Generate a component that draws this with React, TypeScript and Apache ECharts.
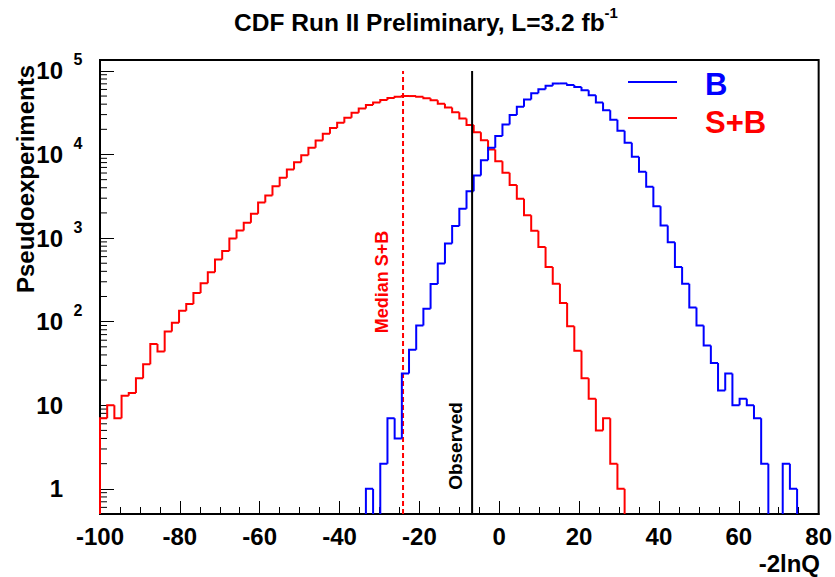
import React, { useEffect, useRef } from 'react';
import * as echarts from 'echarts';

// ---- axis ranges ----
const X_MIN = -100;
const X_MAX = 80;
const N_BINS = 100;
const X_TICK_INTERVAL = 20;
const Y_MIN = 0.5;
const Y_MAX = 1.35e5;
const Y_TICK_EXPONENTS = [0, 1, 2, 3, 4, 5];

// ---- histogram contents (pseudoexperiments per bin, 100 bins from -100 to 80) ----
const SB_COUNTS = [
  7, 10, 7, 13, 14, 21, 31, 54, 44, 76,
  97, 135, 163, 220, 288, 390, 553, 702, 986, 1230,
  1520, 1960, 2660, 3230, 4180, 5260, 6610, 8090, 9820, 12000,
  14700, 17700, 20700, 24000, 27500, 31500, 35500, 39000, 42000, 45000,
  47500, 49000, 50000, 50000, 49000, 47000, 44500, 40500, 36500, 32000,
  27000, 22500, 18500, 14800, 11500, 8300, 6040, 4300, 2950, 1880,
  1220, 784, 450, 285, 167, 88, 45, 21, 12, 5,
  7, 2, 1, 0, 0, 0, 0, 0, 0, 0,
  0, 0, 0, 0, 0, 0, 0, 0, 0, 0,
  0, 0, 0, 0, 0, 0, 0, 0, 0, 0,
];
const B_COUNTS = [
  0, 0, 0, 0, 0, 0, 0, 0, 0, 0,
  0, 0, 0, 0, 0, 0, 0, 0, 0, 0,
  0, 0, 0, 0, 0, 0, 0, 0, 0, 0,
  0, 0, 0, 0, 0, 0, 0, 1, 0, 2,
  7, 4, 24, 46, 90, 143, 283, 495, 859, 1390,
  2240, 3640, 5600, 8550, 12000, 16600, 22900, 29600, 37200, 45600,
  54000, 60500, 66500, 70800, 70800, 68000, 64300, 58600, 51000, 42000,
  33900, 26000, 19200, 13800, 9380, 6200, 4100, 2400, 1410, 890,
  452, 285, 148, 90, 52, 32, 15, 24, 10, 12,
  10, 7, 2, 0, 0, 2, 1, 0, 0, 0,
];

// ---- vertical markers ----
const OBSERVED = -6.8;
const MEDIAN_SB = -24.1;
const MARKER_TOP = 1e5;

// ---- text ----
const TITLE = 'CDF Run II Preliminary, L=3.2 fb';
const TITLE_SUP = '-1';
const X_NAME = '-2lnQ';
const Y_NAME = 'Pseudoexperiments';
const LEGEND_B = 'B';
const LEGEND_SB = 'S+B';

const FONT = "'Liberation Sans', Arial, Helvetica, sans-serif";
const BLUE = '#0000ff';
const RED = '#ff0000';

function binItems(counts: number[]) {
  const w = (X_MAX - X_MIN) / N_BINS;
  return counts.map((v, i) => [
    X_MIN + i * w,
    X_MIN + (i + 1) * w,
    v,
    i > 0 ? counts[i - 1] : 0,
    i === counts.length - 1 ? 1 : 0,
  ]);
}

function minorTickValues() {
  const out: number[][] = [];
  for (let k = -1; k <= 5; k++) {
    for (let m = 2; m <= 9; m++) {
      const v = m * Math.pow(10, k);
      if (v > Y_MIN && v < Y_MAX) out.push([X_MIN, v]);
    }
  }
  return out;
}

function histRenderer(color: string) {
  return (params: any, api: any) => {
    const x0 = api.value(0);
    const x1 = api.value(1);
    const v = api.value(2);
    const prev = api.value(3);
    const last = api.value(4);
    const a = api.coord([x0, Math.max(prev, Y_MIN)]);
    const b = api.coord([x0, Math.max(v, Y_MIN)]);
    const c = api.coord([x1, Math.max(v, Y_MIN)]);
    let pts: number[][];
    if (v <= 0 && prev <= 0) return { type: 'group', children: [] };
    if (v <= 0) pts = [a, b];
    else {
      pts = [a, b, c];
      if (last) pts.push(api.coord([x1, Y_MIN]));
    }
    return {
      type: 'polyline',
      shape: { points: pts },
      style: { stroke: color, lineWidth: 2, fill: null, lineJoin: 'miter' },
      silent: true,
    };
  };
}

export default function App() {
  const ref = useRef<HTMLDivElement>(null);
  useEffect(() => {
    if (!ref.current) return;
    const chart = echarts.init(ref.current, null, { renderer: 'svg' });
    const yLabel = (val: number) => {
      const k = Math.round(Math.log10(val));
      if (Math.abs(Math.log10(val) - k) > 1e-6 || !Y_TICK_EXPONENTS.includes(k)) return '';
      if (k === 0) return '{m|1}{g| }{s| }';
      if (k === 1) return '{m|10}{g| }{s| }';
      return '{m|10}{g| }{s|' + k + '}';
    };
    chart.setOption({
      animation: false,
      backgroundColor: '#ffffff',
      grid: {
        left: 100, top: 60, width: 720, height: 454,
        show: true, borderColor: '#000', borderWidth: 2, backgroundColor: 'transparent',
      },
      xAxis: {
        type: 'value', min: X_MIN, max: X_MAX, interval: X_TICK_INTERVAL,
        axisLine: { show: true, onZero: false, lineStyle: { color: '#000', width: 2 } },
        axisTick: { show: true, inside: true, length: 13, lineStyle: { color: '#000', width: 1 } },
        minorTick: { show: true, splitNumber: 4, length: 7, lineStyle: { color: '#000', width: 1 } },
        splitLine: { show: false },
        axisLabel: { fontSize: 24, fontWeight: 'bold', color: '#000', margin: 10, fontFamily: FONT },
      },
      yAxis: {
        type: 'log', logBase: 10, min: Y_MIN, max: Y_MAX,
        axisLine: { show: true, onZero: false, lineStyle: { color: '#000', width: 2 } },
        axisTick: { show: true, inside: true, length: 14, lineStyle: { color: '#000', width: 1 } },
        splitLine: { show: false },
        axisLabel: {
          margin: 17, color: '#000', formatter: yLabel,
          showMinLabel: false, showMaxLabel: false,
          rich: {
            m: { fontSize: 24, fontWeight: 'bold', fontFamily: FONT, color: '#000', lineHeight: 38 },
            g: { width: 10, fontSize: 10 },
            s: { fontSize: 16, fontWeight: 'bold', fontFamily: FONT, color: '#000', verticalAlign: 'top', lineHeight: 16, width: 10, align: 'left' },
          },
        },
      },
      series: [
        {
          type: 'custom', name: 'ticks', data: minorTickValues(), encode: { x: 0, y: 1 }, silent: true,
          renderItem: (params: any, api: any) => {
            const p = api.coord([api.value(0), api.value(1)]);
            return { type: 'line', shape: { x1: p[0], y1: p[1], x2: p[0] + 7, y2: p[1] }, style: { stroke: '#000', lineWidth: 1 } };
          },
        },
        { type: 'custom', name: LEGEND_SB, data: binItems(SB_COUNTS), encode: { x: [0, 1], y: 2 }, renderItem: histRenderer(RED), z: 3 },
        {
          type: 'line', name: 'Median S+B', data: [[MEDIAN_SB, Y_MIN], [MEDIAN_SB, MARKER_TOP]],
          showSymbol: false, symbol: 'none', silent: true, z: 4,
          lineStyle: { color: RED, width: 2, type: [5, 3] },
        },
        { type: 'custom', name: LEGEND_B, data: binItems(B_COUNTS), encode: { x: [0, 1], y: 2 }, renderItem: histRenderer(BLUE), z: 5 },
        {
          type: 'line', name: 'Observed', data: [[OBSERVED, Y_MIN], [OBSERVED, MARKER_TOP]],
          showSymbol: false, symbol: 'none', silent: true, z: 6,
          lineStyle: { color: '#000', width: 2 },
        },
      ],
      graphic: [
        {
          type: 'text', x: 426, y: 22, z: 10,
          style: {
            text: '{t|' + TITLE + '}{s|' + TITLE_SUP + '}', align: 'center', verticalAlign: 'middle',
            rich: {
              t: { fontSize: 24.5, fontWeight: 'bold', fontFamily: FONT, fill: '#000', lineHeight: 34 },
              s: { fontSize: 15, fontWeight: 'bold', fontFamily: FONT, fill: '#000', verticalAlign: 'top', lineHeight: 15 },
            },
          },
        },
        {
          type: 'text', x: 25, y: 179, rotation: Math.PI / 2, z: 10,
          style: { text: Y_NAME, fontSize: 24, fontWeight: 'bold', fontFamily: FONT, fill: '#000', align: 'center', verticalAlign: 'middle' },
        },
        {
          type: 'text', x: 820, y: 563, z: 10,
          style: { text: X_NAME, fontSize: 24, fontWeight: 'bold', fontFamily: FONT, fill: '#000', align: 'right', verticalAlign: 'middle' },
        },
        {
          type: 'text', x: 382, y: 282, rotation: Math.PI / 2, z: 10,
          style: { text: 'Median S+B', fontSize: 18, fontWeight: 'bold', fontFamily: FONT, fill: RED, align: 'center', verticalAlign: 'middle' },
        },
        {
          type: 'text', x: 455, y: 446, rotation: Math.PI / 2, z: 10,
          style: { text: 'Observed', fontSize: 19, fontWeight: 'bold', fontFamily: FONT, fill: '#000', align: 'center', verticalAlign: 'middle' },
        },
        { type: 'line', z: 10, shape: { x1: 628, y1: 82, x2: 677, y2: 82 }, style: { stroke: BLUE, lineWidth: 2 } },
        { type: 'line', z: 10, shape: { x1: 628, y1: 118, x2: 677, y2: 118 }, style: { stroke: RED, lineWidth: 2 } },
        {
          type: 'text', x: 705, y: 84, z: 10,
          style: { text: LEGEND_B, fontSize: 31, fontWeight: 'bold', fontFamily: FONT, fill: BLUE, align: 'left', verticalAlign: 'middle' },
        },
        {
          type: 'text', x: 705, y: 122, z: 10,
          style: { text: LEGEND_SB, fontSize: 31, fontWeight: 'bold', fontFamily: FONT, fill: RED, align: 'left', verticalAlign: 'middle' },
        },
      ],
    });
    return () => chart.dispose();
  }, []);
  return (
    <div
      ref={ref}
      style={{ position: 'fixed', left: 0, top: 0, width: 835, height: 577, background: '#fff' }}
    />
  );
}
